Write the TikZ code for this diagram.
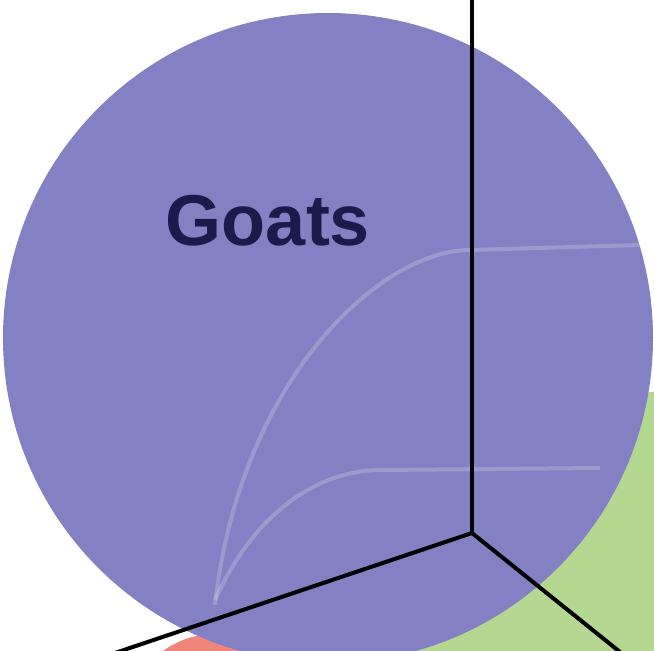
\documentclass[tikz,border=0pt]{standalone}
\usepackage{fontspec}
\setmainfont{Liberation Sans}
\definecolor{goatblue}{RGB}{132,128,196}
\definecolor{fieldgreen}{RGB}{180,216,146}
\definecolor{rosepink}{RGB}{240,134,122}
\definecolor{inkblue}{RGB}{28,26,74}
\begin{document}
\begin{tikzpicture}[x=0.5pt,y=-0.5pt]
\useasboundingbox (0,0) rectangle (654,650);
\clip (0,0) rectangle (654,650);
\fill[white] (0,0) rectangle (654,650);
\fill[fieldgreen] (700,950) circle (560);
\fill[rosepink] (215,722) circle (88);
\fill[goatblue] (328,338) circle (325);
\draw[white, opacity=0.2, line width=2pt] (215,605) .. controls (240,380) and (380,250) .. (470,250) -- (640,245);
\draw[white, opacity=0.2, line width=2pt] (215,600) .. controls (260,500) and (330,470) .. (380,470) -- (600,468);
\node[anchor=base, text=inkblue, font=\fontsize{36}{40}\selectfont\bfseries, inner sep=0pt] (goats) at (268,245) {Goats};
\coordinate (hub) at (472,533);
\coordinate (top) at (472,-10);
\coordinate (sw) at (100,658);
\coordinate (se) at (630,660);
\draw[line width=2pt] (top) -- (hub);
\draw[line width=2pt] (hub) -- (sw);
\draw[line width=2pt] (hub) -- (se);
\end{tikzpicture}
\end{document}
